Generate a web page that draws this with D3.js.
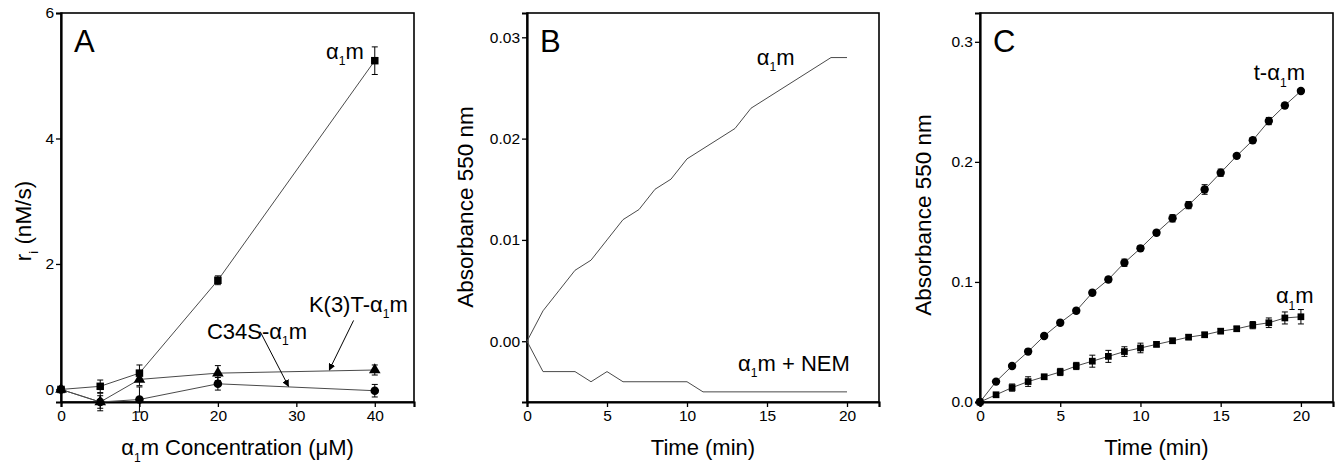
<!DOCTYPE html>
<html lang="en">

<head>
    <meta charset="UTF-8">
    <title>alpha1m rates and absorbance</title>
    <style>
        * {
            margin: 0;
            padding: 0;
        }

        html,
        body {
            overflow: hidden;
            background: #fff;
        }

        text {
            font-family: "Liberation Sans", Arial, sans-serif;
        }
    </style>
</head>

<body>
    <div id="chart"></div>
    <script src="https://cdn.jsdelivr.net/npm/d3@7"></script>
    <script>
        // ---- panel A: r_i vs concentration ----
        const concA = [0, 5, 10, 20, 40]
        const rateWT = [0, 0.05, 0.26, 1.74, 5.24]
        const rateWTErr = [0, 0.1, 0.13, 0.07, 0.22]
        const rateK3T = [0, -0.2, 0.16, 0.26, 0.31]
        const rateK3TErr = [0, 0.1, 0.1, 0.12, 0.08]
        const rateC34S = [0, -0.2, -0.16, 0.09, -0.02]
        const rateC34SErr = [0, 0.14, 0.2, 0.1, 0.1]
        const ticksAx = [0, 10, 20, 30, 40]
        const ticksAy = [0, 2, 4, 6]

        // ---- panel B: absorbance traces ----
        const timeB = [0, 1, 2, 3, 4, 5, 6, 7, 8, 9, 10, 11, 12, 13, 14, 15, 16, 17, 18, 19, 20]
        const absB = [0, 0.003, 0.005, 0.007, 0.008, 0.010, 0.012, 0.013, 0.015, 0.016, 0.018,
            0.019, 0.020, 0.021, 0.023, 0.024, 0.025, 0.026, 0.027, 0.028, 0.028]
        const absNEM = [0, -0.003, -0.003, -0.003, -0.004, -0.003, -0.004, -0.004, -0.004, -0.004, -0.004,
            -0.005, -0.005, -0.005, -0.005, -0.005, -0.005, -0.005, -0.005, -0.005, -0.005]
        const ticksBx = [0, 5, 10, 15, 20]
        const ticksBy = [0, 0.01, 0.02, 0.03]

        // ---- panel C: t-alpha1m vs alpha1m ----
        const timeC = [0, 1, 2, 3, 4, 5, 6, 7, 8, 9, 10, 11, 12, 13, 14, 15, 16, 17, 18, 19, 20]
        const absT = [0, 0.017, 0.030, 0.042, 0.055, 0.066, 0.076, 0.091, 0.102, 0.116, 0.128,
            0.141, 0.153, 0.164, 0.177, 0.191, 0.205, 0.218, 0.234, 0.247, 0.259]
        const absTErr = [0, 0.001, 0.002, 0.002, 0.002, 0.002, 0.002, 0.002, 0.002, 0.003, 0.002,
            0.002, 0.003, 0.003, 0.004, 0.003, 0.002, 0.002, 0.003, 0.002, 0.002]
        const absW = [0, 0.006, 0.012, 0.017, 0.021, 0.025, 0.030, 0.034, 0.038, 0.042, 0.045,
            0.048, 0.051, 0.054, 0.056, 0.059, 0.061, 0.064, 0.066, 0.070, 0.071]
        const absWErr = [0, 0.002, 0.003, 0.004, 0.002, 0.003, 0.003, 0.005, 0.005, 0.004, 0.004,
            0.002, 0.002, 0.002, 0.002, 0.002, 0.002, 0.003, 0.004, 0.005, 0.006]
        const ticksCx = [0, 5, 10, 15, 20]
        const ticksCy = [0, 0.1, 0.2, 0.3]

        const width = 1335
        const height = 466
        const lineColor = '#4a4a4a'

        const svg = d3.select('#chart')
            .append('svg')
            .attr('width', width)
            .attr('height', height)
            .style('background-color', '#fff')

        svg.append('defs').append('marker')
            .attr('id', 'arrow')
            .attr('viewBox', '0 0 10 10')
            .attr('refX', 9)
            .attr('refY', 5)
            .attr('markerWidth', 7)
            .attr('markerHeight', 7)
            .attr('markerUnits', 'userSpaceOnUse')
            .attr('orient', 'auto')
            .append('path')
            .attr('d', 'M0,0 L10,5 L0,10 Z')
            .attr('fill', '#000')

        // text with an optional subscript, parts = [[str, isSub], ...]
        function richText(g, x, y, parts, size, anchor) {
            const t = g.append('text')
                .attr('x', x)
                .attr('y', y)
                .attr('font-size', size)
                .attr('text-anchor', anchor || 'start')
                .attr('fill', '#000')
            let shift = 0
            parts.forEach(([s, sub]) => {
                const dy = sub ? size * 0.3 : -shift
                shift = sub ? size * 0.3 : 0
                t.append('tspan')
                    .attr('dy', dy)
                    .attr('font-size', sub ? size * 0.55 : size)
                    .text(s)
            })
            return t
        }

        function makePanel(p) {
            const g = svg.append('g')
            const x = d3.scaleLinear().domain(p.xDomain).range([p.left, p.right])
            const y = d3.scaleLinear().domain(p.yDomain).range([p.bottom, p.top])

            g.append('rect')
                .attr('x', p.left)
                .attr('y', p.top)
                .attr('width', p.right - p.left)
                .attr('height', p.bottom - p.top)
                .attr('fill', 'none')
                .attr('stroke', '#000')
                .attr('stroke-width', 1.6)

            const xAxis = g.append('g')
                .attr('transform', `translate(0, ${p.bottom})`)
                .call(d3.axisBottom(x).tickValues(p.xTicks).tickSize(5).tickPadding(3).tickFormat(p.xFormat))
            const yAxis = g.append('g')
                .attr('transform', `translate(${p.left}, 0)`)
                .call(d3.axisLeft(y).tickValues(p.yTicks).tickSize(5).tickPadding(2).tickFormat(p.yFormat))

            ;[xAxis, yAxis].forEach(a => {
                a.attr('font-size', null)
                a.select('.domain').attr('stroke-width', 2.2)
                a.selectAll('.tick line').attr('stroke-width', 1.3)
                a.selectAll('.tick text')
                    .style('font-size', '15.5px')
                    .attr('fill', '#000')
            })

            // panel letter
            g.append('text')
                .attr('x', p.left + 13)
                .attr('y', p.top + 39)
                .attr('font-size', 31)
                .text(p.letter)

            // axis titles
            richText(g, (p.left + p.right) / 2, 455, p.xTitle, 22, 'middle')
            richText(g, 0, 0, p.yTitle, 22.5, 'middle')
                .attr('transform', `translate(${p.left - p.yTitleOffset}, ${p.yTitleCenter}) rotate(-90)`)

            return { g, x, y }
        }

        function drawSeries(panel, xs, ys, errs, shape, size) {
            const { g, x, y } = panel
            const pts = xs.map((d, i) => ({ x: d, y: ys[i], e: errs ? errs[i] : 0 }))

            g.append('path')
                .datum(pts)
                .attr('fill', 'none')
                .attr('stroke', lineColor)
                .attr('stroke-width', 1)
                .attr('d', d3.line().x(d => x(d.x)).y(d => y(d.y)))

            if (!shape) return

            const bars = g.append('g')
                .selectAll('g')
                .data(pts.filter(d => d.e > 0))
                .join('g')
            bars.append('line')
                .attr('x1', d => x(d.x)).attr('x2', d => x(d.x))
                .attr('y1', d => y(d.y - d.e)).attr('y2', d => y(d.y + d.e))
                .attr('stroke', '#000')
            ;[-1, 1].forEach(s => {
                bars.append('line')
                    .attr('x1', d => x(d.x) - 3).attr('x2', d => x(d.x) + 3)
                    .attr('y1', d => y(d.y + s * d.e)).attr('y2', d => y(d.y + s * d.e))
                    .attr('stroke', '#000')
            })

            g.append('g')
                .selectAll('path')
                .data(pts)
                .join('path')
                .attr('transform', d => `translate(${x(d.x)}, ${y(d.y)})`)
                .attr('d', d3.symbol().type(shape).size(size))
                .attr('fill', '#000')
        }

        function arrow(panel, from, to) {
            const { g, x, y } = panel
            g.append('line')
                .attr('x1', x(from[0])).attr('y1', y(from[1]))
                .attr('x2', x(to[0])).attr('y2', y(to[1]))
                .attr('stroke', '#000')
                .attr('stroke-width', 1)
                .attr('marker-end', 'url(#arrow)')
        }

        // ---------- A ----------
        const A = makePanel({
            left: 61, right: 414, top: 13, bottom: 402,
            xDomain: [0, 45], yDomain: [-0.2, 6],
            xTicks: ticksAx, yTicks: ticksAy,
            xFormat: d3.format('d'), yFormat: d3.format('d'),
            letter: 'A',
            xTitle: [['α'], ['1', true], ['m Concentration (μM)']],
            yTitle: [['r'], ['i', true], [' (nM/s)']],
            yTitleOffset: 30, yTitleCenter: 221
        })
        drawSeries(A, concA, rateC34S, rateC34SErr, d3.symbolCircle, 58)
        drawSeries(A, concA, rateK3T, rateK3TErr, d3.symbolTriangle, 58)
        drawSeries(A, concA, rateWT, rateWTErr, d3.symbolSquare, 56)
        richText(A.g, A.x(38.6), A.y(5.27), [['α'], ['1', true], ['m']], 22, 'end')
        richText(A.g, A.x(31.6), A.y(1.24), [['K(3)T-α'], ['1', true], ['m']], 22)
        richText(A.g, A.x(18.6), A.y(0.81), [['C34S-α'], ['1', true], ['m']], 22)
        arrow(A, [37.3, 1.1], [34.2, 0.31])
        arrow(A, [25.4, 0.92], [29.0, 0.05])

        // ---------- B ----------
        const B = makePanel({
            left: 527, right: 879, top: 13, bottom: 402,
            xDomain: [0, 22], yDomain: [-0.006, 0.0324],
            xTicks: ticksBx, yTicks: ticksBy,
            xFormat: d3.format('d'), yFormat: d3.format('.2f'),
            letter: 'B',
            xTitle: [['Time (min)']],
            yTitle: [['Absorbance 550 nm']],
            yTitleOffset: 54, yTitleCenter: 207
        })
        drawSeries(B, timeB, absB, null, null)
        drawSeries(B, timeB, absNEM, null, null)
        richText(B.g, B.x(14.36), B.y(0.0273), [['α'], ['1', true], ['m']], 22)
        richText(B.g, B.x(13.19), B.y(-0.0029), [['α'], ['1', true], ['m + NEM']], 22)

        // ---------- C ----------
        const C = makePanel({
            left: 980, right: 1333, top: 13, bottom: 402,
            xDomain: [0, 22], yDomain: [0, 0.324],
            xTicks: ticksCx, yTicks: ticksCy,
            xFormat: d3.format('d'), yFormat: d3.format('.1f'),
            letter: 'C',
            xTitle: [['Time (min)']],
            yTitle: [['Absorbance 550 nm']],
            yTitleOffset: 49, yTitleCenter: 215
        })
        drawSeries(C, timeC, absT, absTErr, d3.symbolCircle, 55)
        drawSeries(C, timeC, absW, absWErr, d3.symbolSquare, 45)
        richText(C.g, C.x(17.06), C.y(0.268), [['t-α'], ['1', true], ['m']], 22)
        richText(C.g, C.x(18.44), C.y(0.0825), [['α'], ['1', true], ['m']], 22)
    </script>
</body>

</html>
